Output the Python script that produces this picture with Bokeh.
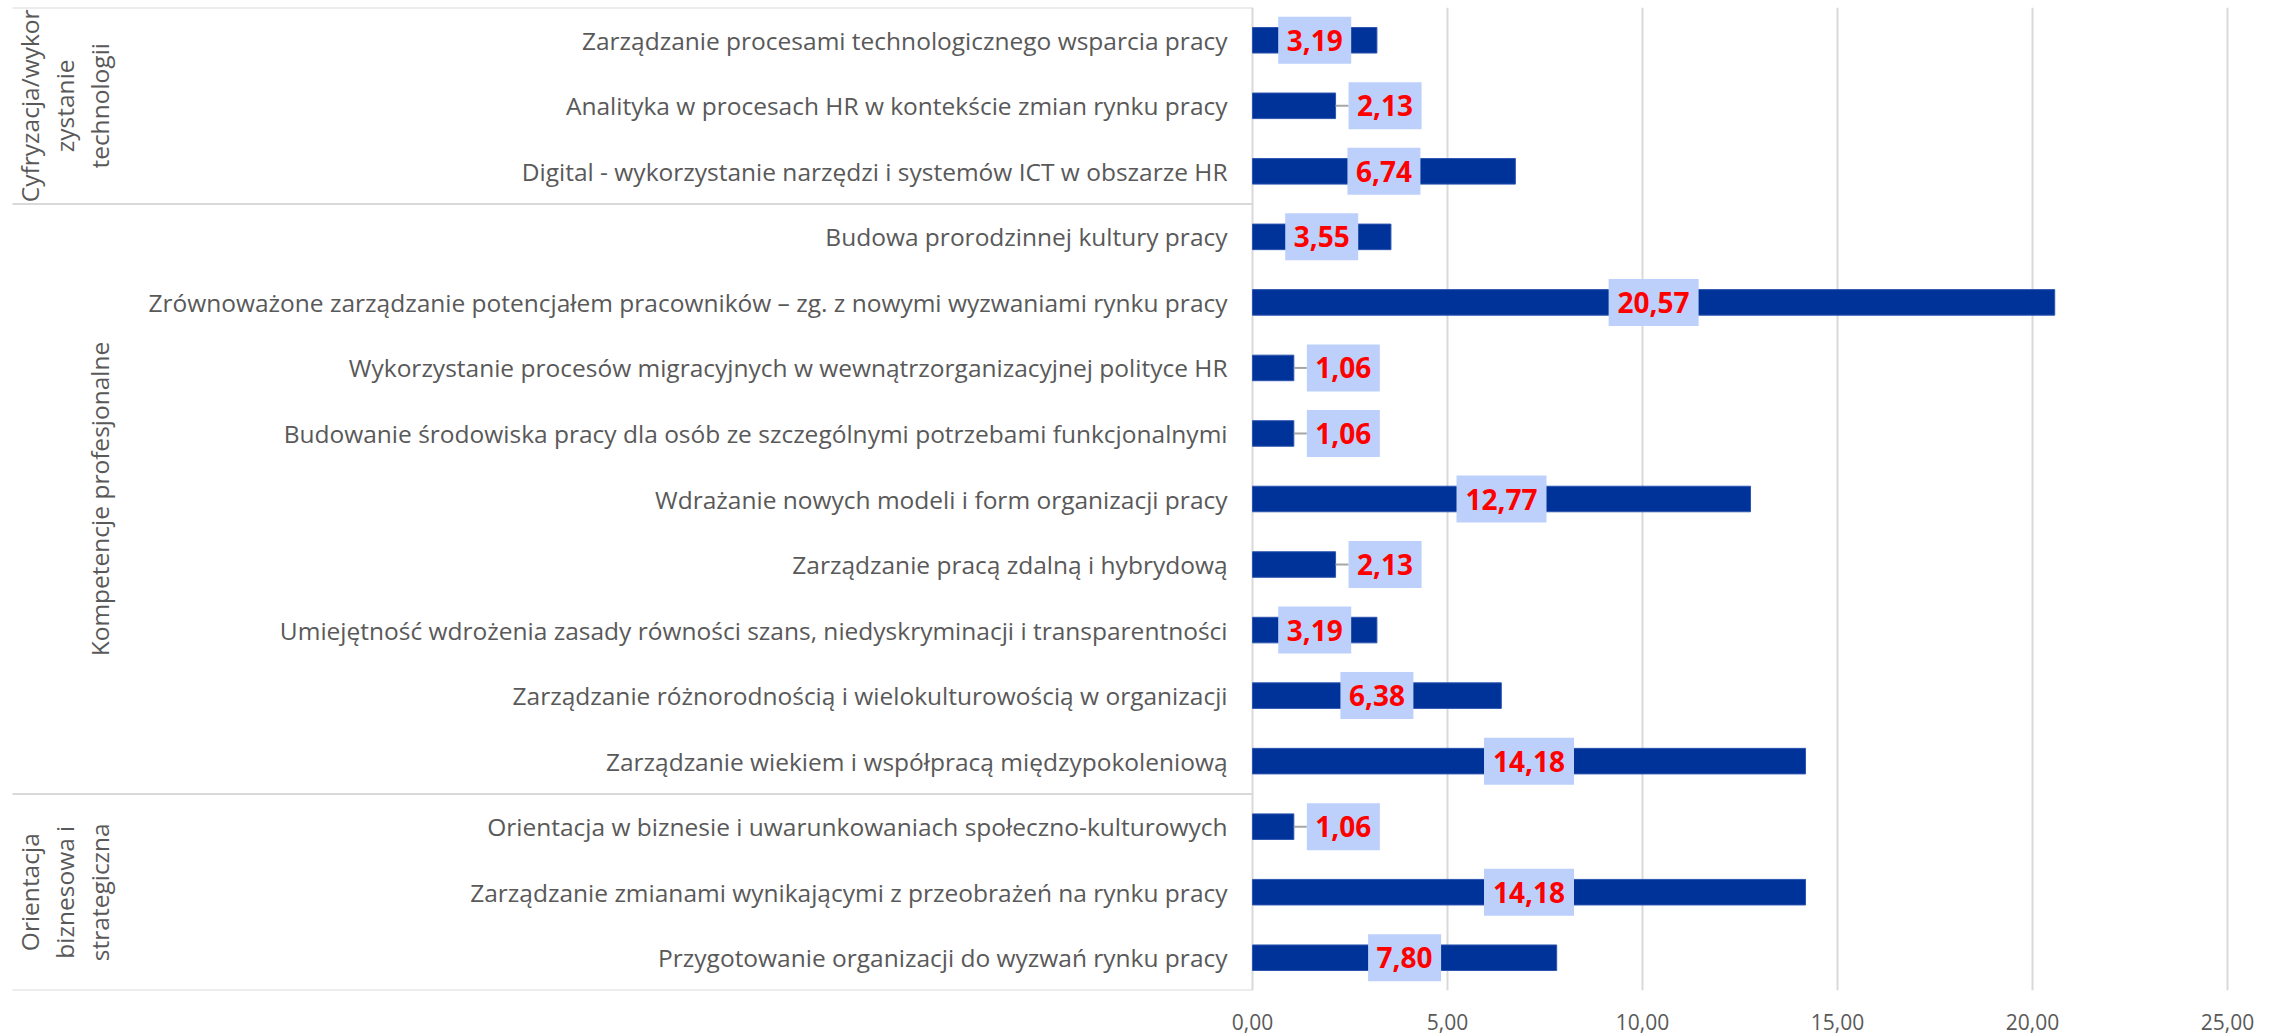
import math
from bokeh.plotting import figure
from bokeh.models import ColumnDataSource, Range1d, FixedTicker
from bokeh.core.properties import value
from bokeh.embed import file_html
from bokeh.resources import INLINE

# ---------------- data ----------------
categories = [
    "Zarządzanie procesami technologicznego wsparcia pracy",
    "Analityka w procesach HR w kontekście zmian rynku pracy",
    "Digital - wykorzystanie narzędzi i systemów ICT w obszarze HR",
    "Budowa prorodzinnej kultury pracy",
    "Zrównoważone zarządzanie potencjałem pracowników – zg. z nowymi wyzwaniami rynku pracy",
    "Wykorzystanie procesów migracyjnych w wewnątrzorganizacyjnej polityce HR",
    "Budowanie środowiska pracy dla osób ze szczególnymi potrzebami funkcjonalnymi",
    "Wdrażanie nowych modeli i form organizacji pracy",
    "Zarządzanie pracą zdalną i hybrydową",
    "Umiejętność wdrożenia zasady równości szans, niedyskryminacji i transparentności",
    "Zarządzanie różnorodnością i wielokulturowością w organizacji",
    "Zarządzanie wiekiem i współpracą międzypokoleniową",
    "Orientacja w biznesie i uwarunkowaniach społeczno-kulturowych",
    "Zarządzanie zmianami wynikającymi z przeobrażeń na rynku pracy",
    "Przygotowanie organizacji do wyzwań rynku pracy",
]
values = [3.19, 2.13, 6.74, 3.55, 20.57, 1.06, 1.06, 12.77, 2.13, 3.19, 6.38, 14.18, 1.06, 14.18, 7.80]

group_sizes = [3, 9, 3]
group_label_lines = [
    ["Cyfryzacja/wykor", "zystanie", "technologii"],
    ["Kompetencje profesjonalne"],
    ["Orientacja", "biznesowa i", "strategiczna"],
]

x_ticks = [0, 5, 10, 15, 20, 25]
x_tick_labels = ["0,00", "5,00", "10,00", "15,00", "20,00", "25,00"]

# ---------------- layout / style ----------------
W, H = 2282, 1035
TOP_PX, BOTTOM_PX = 7, 990
ZERO_PX = 1252          # figure pixel where value 0 sits
PX_PER_UNIT = 39.0
LABEL_RIGHT_PX = 1227
SEP_LEFT_PX = 12
GROUP_LAST_LINE_PX = 99
GROUP_LINE_STEP = 35
GAP_PX = 13
BOX_H = 47
BAR_COLOR = "#003399"
BOX_COLOR = "#BCD0FB"
TEXT_COLOR = "#595959"
GRID_COLOR = "#D9D9D9"
FONT = "Open Sans"

n = len(categories)
ys = [i + 0.5 for i in range(n)]
labels = [f"{v:.2f}".replace(".", ",") for v in values]
box_w = [17 * len(t) + 5 for t in labels]
outside = [v < 2.5 for v in values]
label_x = [
    (v + (GAP_PX + bw / 2) / PX_PER_UNIT) if out else v / 2
    for v, bw, out in zip(values, box_w, outside)
]

src = ColumnDataSource(dict(
    y=ys, value=values, cat=categories, label=labels, lx=label_x, bw=box_w,
    cx=[LABEL_RIGHT_PX] * n,
))

x_start = -ZERO_PX / PX_PER_UNIT
x_end = (W - ZERO_PX) / PX_PER_UNIT

p = figure(
    width=W, height=H,
    x_range=Range1d(x_start, x_end), y_range=Range1d(n, 0),
    output_backend="svg", toolbar_location=None,
    min_border_left=0, min_border_right=0,
    min_border_top=TOP_PX, min_border_bottom=H - BOTTOM_PX,
)
p.extra_x_ranges = {"px": Range1d(0, W)}
p.outline_line_color = None
p.yaxis.visible = False
p.ygrid.grid_line_color = None

p.xaxis.ticker = FixedTicker(ticks=x_ticks)
p.xaxis.major_label_overrides = {t: lab for t, lab in zip(x_ticks, x_tick_labels)}
p.xaxis.axis_line_color = None
p.xaxis.major_tick_line_color = None
p.xaxis.minor_tick_line_color = None
p.xaxis.major_label_standoff = 17
p.xaxis.major_label_text_font = FONT
p.xaxis.major_label_text_font_size = "21px"
p.xaxis.major_label_text_color = TEXT_COLOR
p.xgrid.ticker = FixedTicker(ticks=x_ticks)
p.xgrid.grid_line_color = GRID_COLOR
p.xgrid.grid_line_width = 2

# group separators (top, between groups, bottom)
bounds = [0]
for s in group_sizes:
    bounds.append(bounds[-1] + s)
p.segment(x0=[SEP_LEFT_PX] * len(bounds), x1=[ZERO_PX] * len(bounds), y0=bounds, y1=bounds,
          line_color=GRID_COLOR, line_width=2, x_range_name="px")

# bars
p.hbar(y="y", left=0, right="value", height=0.39, source=src,
       fill_color=BAR_COLOR, line_color="#2E55B0", line_width=1)

# leader lines for outside labels
lead = ColumnDataSource(dict(
    x0=[v for v, o in zip(values, outside) if o],
    x1=[v + GAP_PX / PX_PER_UNIT for v, o in zip(values, outside) if o],
    y=[y for y, o in zip(ys, outside) if o],
))
p.segment(x0="x0", x1="x1", y0="y", y1="y", source=lead, line_color="#A6A6A6", line_width=2)

# data label boxes + texts
p.rect(x="lx", y="y", width="bw", height=BOX_H, width_units="screen", height_units="screen",
       source=src, fill_color=BOX_COLOR, line_color=None)
p.text(x="lx", y="y", text="label", source=src, text_font=value(FONT), text_font_style="bold",
       text_font_size="28px", text_color="#FF0000", text_align="center", text_baseline="middle")

# category labels
p.text(x="cx", y="y", text="cat", source=src, x_range_name="px", text_font=value(FONT),
       text_font_size="24.5px", text_color=TEXT_COLOR, text_align="right", text_baseline="middle")

# group labels (rotated)
gx, gy, gt = [], [], []
for gi, lines in enumerate(group_label_lines):
    mid = (bounds[gi] + bounds[gi + 1]) / 2
    k = len(lines)
    for li, t in enumerate(lines):
        gx.append(GROUP_LAST_LINE_PX - (k - 1 - li) * GROUP_LINE_STEP)
        gy.append(mid)
        gt.append(t)
p.text(x=gx, y=gy, text=gt, angle=math.pi / 2, x_range_name="px", text_font=value(FONT),
       text_font_size="24.5px", text_color=TEXT_COLOR, text_align="center", text_baseline="middle")

open("out.html", "w").write(file_html(p, INLINE))
